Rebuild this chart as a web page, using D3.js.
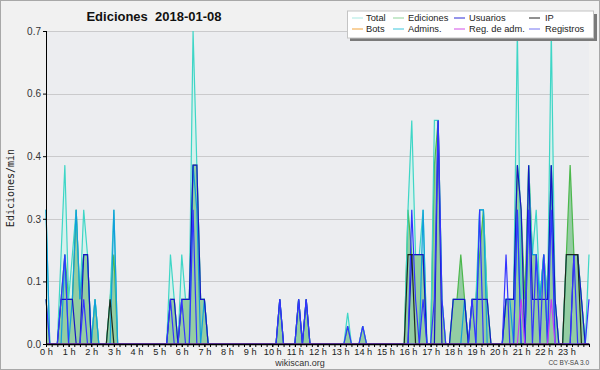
<!DOCTYPE html>
<html>
<head>
<meta charset="utf-8">
<script src="https://cdn.jsdelivr.net/npm/d3@7"></script>
<style>
  body { margin: 0; background: #fff; }
  svg { display: block; }
</style>
</head>
<body>
<svg id="chart" width="600" height="370"></svg>
<script>
// one sample every 10 minutes, 00:00 -> 24:00 (145 points)
// values are edits per minute
const total = [
  0.3, 0, 0, 0, 0.2, 0.4, 0.1, 0.2, 0.3, 0.1, 0.3, 0.2,
  0, 0.1, 0, 0, 0, 0.1, 0.3, 0, 0, 0, 0, 0,
  0, 0, 0, 0, 0, 0, 0, 0, 0, 0.2, 0.1, 0,
  0.2, 0.1, 0.1, 0.7, 0.4, 0.1, 0.1, 0, 0, 0, 0, 0,
  0, 0, 0, 0, 0, 0, 0, 0, 0, 0, 0, 0,
  0, 0, 0.1, 0, 0, 0, 0, 0.1, 0, 0.1, 0, 0,
  0, 0, 0, 0, 0, 0, 0, 0, 0.07, 0, 0, 0,
  0.04, 0, 0, 0, 0, 0, 0, 0, 0, 0, 0, 0,
  0.3, 0.5, 0.2, 0.2, 0.3, 0, 0, 0.5, 0.5, 0.1, 0, 0,
  0.1, 0.1, 0.1, 0.1, 0, 0.1, 0.1, 0.3, 0.3, 0.1, 0, 0,
  0, 0, 0.1, 0.1, 0.1, 0.7, 0.1, 0, 0.4, 0.2, 0.3, 0.1,
  0.2, 0.1, 0.7, 0.1, 0, 0, 0.2, 0.2, 0.2, 0.2, 0.1, 0,
  0.2
]
const edits = [
  0.1, 0, 0, 0, 0.1, 0.2, 0.1, 0.1, 0.3, 0.1, 0.2, 0.2,
  0, 0.1, 0, 0, 0, 0.1, 0.2, 0, 0, 0, 0, 0,
  0, 0, 0, 0, 0, 0, 0, 0, 0, 0.1, 0.1, 0,
  0.1, 0.1, 0.1, 0.4, 0.4, 0.1, 0.1, 0, 0, 0, 0, 0,
  0, 0, 0, 0, 0, 0, 0, 0, 0, 0, 0, 0,
  0, 0, 0.1, 0, 0, 0, 0, 0.1, 0, 0.1, 0, 0,
  0, 0, 0, 0, 0, 0, 0, 0, 0.04, 0, 0, 0,
  0.04, 0, 0, 0, 0, 0, 0, 0, 0, 0, 0, 0,
  0.3, 0.2, 0.2, 0.2, 0.2, 0, 0, 0.4, 0.5, 0.1, 0, 0,
  0.1, 0.1, 0.2, 0.1, 0, 0.1, 0.1, 0.2, 0.3, 0.1, 0, 0,
  0, 0, 0.1, 0.1, 0.1, 0.4, 0.3, 0.1, 0.4, 0.2, 0.2, 0.1,
  0.2, 0.1, 0.4, 0.1, 0, 0, 0.2, 0.4, 0.2, 0.2, 0.1, 0,
  0
]
const users = [
  0, 0, 0, 0, 0.1, 0.1, 0.1, 0.1, 0, 0, 0.2, 0.2,
  0, 0, 0, 0, 0, 0, 0, 0, 0, 0, 0, 0,
  0, 0, 0, 0, 0, 0, 0, 0, 0, 0.1, 0.1, 0,
  0.1, 0.1, 0.1, 0.4, 0.4, 0.1, 0.1, 0, 0, 0, 0, 0,
  0, 0, 0, 0, 0, 0, 0, 0, 0, 0, 0, 0,
  0, 0, 0.1, 0, 0, 0, 0, 0.1, 0, 0.1, 0, 0,
  0, 0, 0, 0, 0, 0, 0, 0, 0, 0, 0, 0,
  0, 0, 0, 0, 0, 0, 0, 0, 0, 0, 0, 0,
  0, 0.2, 0.2, 0.2, 0.2, 0, 0, 0, 0.5, 0, 0, 0,
  0.1, 0.1, 0.1, 0.1, 0, 0.1, 0.1, 0.1, 0.1, 0.1, 0, 0,
  0, 0, 0.1, 0.1, 0.1, 0.4, 0.3, 0, 0.4, 0.1, 0.1, 0.1,
  0.1, 0.1, 0.4, 0.1, 0, 0, 0, 0, 0.2, 0.2, 0.1, 0,
  0
]
const ip = [
  0, 0, 0, 0, 0, 0, 0, 0, 0, 0, 0, 0,
  0, 0, 0, 0, 0, 0.1, 0, 0, 0, 0, 0, 0,
  0, 0, 0, 0, 0, 0, 0, 0, 0, 0, 0, 0,
  0, 0, 0, 0, 0, 0, 0, 0, 0, 0, 0, 0,
  0, 0, 0, 0, 0, 0, 0, 0, 0, 0, 0, 0,
  0, 0, 0, 0, 0, 0, 0, 0, 0, 0, 0, 0,
  0, 0, 0, 0, 0, 0, 0, 0, 0, 0, 0, 0,
  0, 0, 0, 0, 0, 0, 0, 0, 0, 0, 0, 0,
  0.2, 0.2, 0, 0, 0, 0, 0, 0, 0, 0, 0, 0,
  0, 0, 0, 0, 0, 0, 0, 0, 0, 0, 0, 0,
  0, 0, 0, 0, 0, 0, 0, 0, 0, 0, 0, 0,
  0, 0, 0, 0, 0, 0, 0.2, 0.2, 0.2, 0.2, 0, 0,
  0
]
const admins = [
  0.3, 0, 0, 0, 0, 0.2, 0, 0.1, 0.3, 0.1, 0.2, 0.2,
  0, 0.1, 0, 0, 0, 0, 0.3, 0, 0, 0, 0, 0,
  0, 0, 0, 0, 0, 0, 0, 0, 0, 0, 0, 0,
  0, 0, 0, 0.4, 0.3, 0, 0.1, 0, 0, 0, 0, 0,
  0, 0, 0, 0, 0, 0, 0, 0, 0, 0, 0, 0,
  0, 0, 0, 0, 0, 0, 0, 0, 0, 0, 0, 0,
  0, 0, 0, 0, 0, 0, 0, 0, 0, 0, 0, 0,
  0, 0, 0, 0, 0, 0, 0, 0, 0, 0, 0, 0,
  0, 0, 0, 0, 0.3, 0, 0, 0, 0, 0, 0, 0,
  0, 0, 0, 0.1, 0, 0, 0, 0.3, 0.3, 0, 0, 0,
  0, 0, 0.1, 0.1, 0, 0.3, 0, 0, 0.3, 0.2, 0.2, 0.1,
  0.2, 0, 0.4, 0, 0, 0, 0, 0, 0, 0, 0, 0,
  0
]
const adminLogs = [
  0, 0, 0, 0, 0, 0, 0, 0, 0, 0, 0, 0,
  0, 0, 0, 0, 0, 0, 0, 0, 0, 0, 0, 0,
  0, 0, 0, 0, 0, 0, 0, 0, 0, 0, 0, 0,
  0, 0, 0, 0, 0, 0, 0, 0, 0, 0, 0, 0,
  0, 0, 0, 0, 0, 0, 0, 0, 0, 0, 0, 0,
  0, 0, 0, 0, 0, 0, 0, 0, 0, 0, 0, 0,
  0, 0, 0, 0, 0, 0, 0, 0, 0, 0, 0, 0,
  0, 0, 0, 0, 0, 0, 0, 0, 0, 0, 0, 0,
  0, 0, 0, 0, 0, 0, 0, 0, 0, 0, 0, 0,
  0, 0, 0, 0, 0, 0, 0, 0, 0, 0, 0, 0,
  0, 0, 0, 0, 0, 0, 0.1, 0, 0, 0, 0, 0,
  0, 0, 0.1, 0, 0, 0, 0, 0, 0, 0, 0, 0,
  0
]
const logs = [
  0.1, 0, 0, 0, 0.1, 0.2, 0, 0, 0, 0, 0.1, 0,
  0, 0, 0, 0, 0, 0, 0, 0, 0, 0, 0, 0,
  0, 0, 0, 0, 0, 0, 0, 0, 0, 0.1, 0, 0,
  0.1, 0, 0, 0.3, 0, 0, 0, 0, 0, 0, 0, 0,
  0, 0, 0, 0, 0, 0, 0, 0, 0, 0, 0, 0,
  0, 0, 0.1, 0, 0, 0, 0, 0.1, 0, 0.1, 0, 0,
  0, 0, 0, 0, 0, 0, 0, 0, 0.04, 0, 0, 0,
  0.04, 0, 0, 0, 0, 0, 0, 0, 0, 0, 0, 0,
  0, 0.3, 0.1, 0, 0.1, 0, 0, 0.1, 0.5, 0.1, 0, 0,
  0, 0, 0, 0, 0, 0.1, 0, 0.3, 0, 0, 0, 0,
  0, 0, 0.2, 0, 0, 0.3, 0, 0, 0.3, 0, 0.2, 0,
  0.2, 0, 0.3, 0, 0, 0, 0, 0, 0.2, 0, 0, 0,
  0.1
]

const minutes = total.map((_, i) => i * 10)
const yTicks = [0, 0.14, 0.28, 0.42, 0.56, 0.7]
const hourLabels = d3.range(0, 24)

const legendItems = [
  { name: 'Total', color: '#a9e9e2' },
  { name: 'Ediciones', color: '#8fd39a' },
  { name: 'Usuarios', color: '#2b2bd6' },
  { name: 'IP', color: '#222222' },
  { name: 'Bots', color: '#f2a33a' },
  { name: 'Admins.', color: '#3cc6dc' },
  { name: 'Reg. de adm.', color: '#d24fe6' },
  { name: 'Registros', color: '#7474f2' },
]

const svg = d3.select('#chart')
const W = 600, H = 370
const plot = { left: 46, right: 589, top: 31, bottom: 344 }

// fond + cadre
svg.append('rect').attr('width', W).attr('height', H).attr('fill', '#f1f1f1')
svg.append('rect')
  .attr('x', 0.5).attr('y', 0.5).attr('width', W - 1).attr('height', H - 1)
  .attr('fill', 'none').attr('stroke', '#a8a8a8')
svg.append('rect')
  .attr('x', plot.left).attr('y', plot.top)
  .attr('width', plot.right - plot.left).attr('height', plot.bottom - plot.top)
  .attr('fill', '#ecedf0')

const x = d3.scaleLinear().domain([0, 1440]).range([plot.left, plot.right])
const y = d3.scaleLinear().domain([0, 0.7]).range([plot.bottom, plot.top])

// grille
svg.append('g').selectAll('line')
  .data(yTicks.slice(1))
  .join('line')
  .attr('x1', plot.left).attr('x2', plot.right)
  .attr('y1', d => Math.round(y(d)) + 0.5).attr('y2', d => Math.round(y(d)) + 0.5)
  .attr('stroke', '#cacacc')

const area = data => d3.area()
  .x((d, i) => x(minutes[i]))
  .y0(y(0))
  .y1(d => y(d))(data)
const line = data => d3.line()
  .x((d, i) => x(minutes[i]))
  .y(d => y(d))(data)

// surfaces
svg.append('path').attr('d', area(total)).attr('fill', '#d2f1ec').attr('opacity', 0.85)
svg.append('path').attr('d', area(edits)).attr('fill', '#8cc99a').attr('opacity', 0.9)

// courbes
const curves = [
  { data: edits, color: '#4cb84c' },
  { data: total, color: '#3ed6c6' },
  { data: admins, color: '#119fdc' },
  { data: users, color: '#1616c4' },
  { data: logs, color: '#3434ff' },
  { data: ip, color: '#1c2a1c' },
  { data: adminLogs, color: '#c23cf5' },
]
curves.forEach(c => {
  svg.append('path')
    .attr('d', line(c.data))
    .attr('fill', 'none')
    .attr('stroke', c.color)
    .attr('stroke-width', 1.2)
    .attr('stroke-linejoin', 'miter')
})

// axe Y
const yAxis = svg.append('g')
  .attr('transform', `translate(${plot.left},0)`)
  .call(d3.axisLeft(y).tickValues(d3.range(0, 0.7001, 0.035)).tickSize(3).tickFormat(''))
yAxis.call(d3.axisLeft(y).tickValues(yTicks).tickSize(3).tickPadding(2).tickFormat(d3.format('.1f')))
yAxis.selectAll('text')
  .attr('font-family', 'Liberation Sans, Arial, sans-serif')
  .attr('font-size', 10)
  .attr('fill', '#333')
yAxis.select('.domain').remove()
svg.append('line')
  .attr('x1', plot.left + 0.5).attr('x2', plot.left + 0.5)
  .attr('y1', plot.top).attr('y2', plot.bottom)
  .attr('stroke', '#000')

// axe X
const xAxis = svg.append('g')
  .attr('transform', `translate(0,${plot.bottom})`)
  .call(d3.axisBottom(x).tickValues(d3.range(0, 1441, 15)).tickSize(3).tickFormat(''))
xAxis.select('.domain').remove()
const xLab = svg.append('g')
  .attr('transform', `translate(0,${plot.bottom})`)
  .call(d3.axisBottom(x).tickValues(hourLabels.map(h => h * 60)).tickSize(3).tickPadding(1)
    .tickFormat(m => `${m / 60} h`))
xLab.select('.domain').remove()
xLab.selectAll('text')
  .attr('font-family', 'Liberation Sans, Arial, sans-serif')
  .attr('font-size', 9.2)
  .attr('fill', '#222')
svg.append('line')
  .attr('x1', plot.left).attr('x2', plot.right + 1)
  .attr('y1', plot.bottom + 0.5).attr('y2', plot.bottom + 0.5)
  .attr('stroke', '#000').attr('stroke-width', 1.5)

// titres
svg.append('text')
  .attr('x', 154).attr('y', 21)
  .attr('text-anchor', 'middle')
  .attr('font-family', 'Liberation Sans, Arial, sans-serif')
  .attr('font-weight', 'bold')
  .attr('font-size', 13)
  .attr('fill', '#111')
  .attr('xml:space', 'preserve')
  .text('Ediciones  2018-01-08')

svg.append('text')
  .attr('transform', 'translate(14,188) rotate(-90)')
  .attr('text-anchor', 'middle')
  .attr('font-family', 'DejaVu Sans Mono, monospace')
  .attr('font-size', 10)
  .attr('fill', '#222')
  .text('Ediciones/min')

svg.append('text')
  .attr('x', 300).attr('y', 366)
  .attr('text-anchor', 'middle')
  .attr('font-family', 'Liberation Sans, Arial, sans-serif')
  .attr('font-size', 9)
  .attr('fill', '#333')
  .text('wikiscan.org')

svg.append('text')
  .attr('x', 589).attr('y', 365)
  .attr('text-anchor', 'end')
  .attr('font-family', 'Liberation Sans, Arial, sans-serif')
  .attr('font-size', 6.5)
  .attr('fill', '#444')
  .text('CC BY-SA 3.0')

// légende
const lg = svg.append('g')
lg.append('rect').attr('x', 350).attr('y', 14).attr('width', 247).attr('height', 27).attr('fill', '#7a7a7a')
lg.append('rect').attr('x', 347.5).attr('y', 11).attr('width', 246).attr('height', 27)
  .attr('fill', '#fff').attr('stroke', '#c4c4c4')
const colX = [352, 393, 454, 529]
const textX = [366, 408, 469, 545]
legendItems.forEach((it, i) => {
  const col = i % 4, row = Math.floor(i / 4)
  const cy = 18 + row * 11
  lg.append('line')
    .attr('x1', colX[col]).attr('x2', colX[col] + 11)
    .attr('y1', cy).attr('y2', cy)
    .attr('stroke', it.color)
  lg.append('text')
    .attr('x', textX[col]).attr('y', cy + 3.2)
    .attr('font-family', 'Liberation Sans, Arial, sans-serif')
    .attr('font-size', 9.3)
    .attr('fill', '#222')
    .text(it.name)
})
</script>
</body>
</html>
